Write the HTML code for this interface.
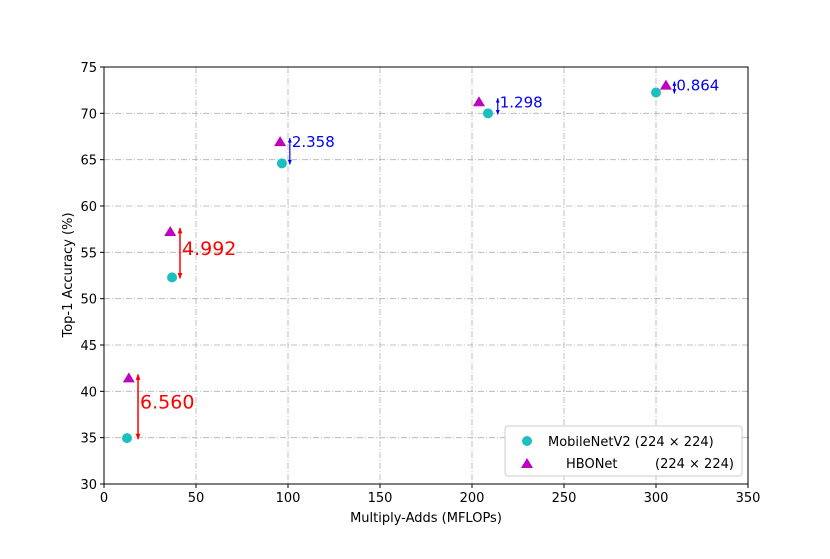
<!DOCTYPE html>
<html><head><meta charset="utf-8"><style>
body{margin:0;background:#fff}
svg{font-family:"DejaVu Sans","Liberation Sans",sans-serif}
</style></head><body>
<svg id="chart" width="830" height="554" viewBox="0 0 830 554">
<defs>
<marker id="arR" viewBox="0 0 10 10" refX="9" refY="5" markerWidth="4" markerHeight="4" orient="auto-start-reverse"><path d="M0,1L10,5L0,9z" fill="#ff0000"/></marker>
<marker id="arB" viewBox="0 0 10 10" refX="9" refY="5" markerWidth="4" markerHeight="4" orient="auto-start-reverse"><path d="M0,1L10,5L0,9z" fill="#0000ff"/></marker>
</defs>
<g id="grid"></g>
<g id="marks"></g>
<rect x="104" y="67" width="644" height="417" fill="none" stroke="#000" stroke-width="1"/>
<g id="ticks" font-size="13"></g>
<text x="426" y="522" text-anchor="middle" font-size="13">Multiply-Adds (MFLOPs)</text>
<text transform="translate(72,275) rotate(-90)" text-anchor="middle" font-size="13">Top-1 Accuracy (%)</text>
<g>
<rect x="505" y="426" width="237" height="50" rx="3" fill="#fff" stroke="#ccc"/>
<circle cx="527" cy="441" r="5" fill="#1bbfbf"/>
<text x="548" y="446" font-size="13">MobileNetV2 (224 × 224)</text>
<path d="M521,468L527,458L533,468z" fill="#bf00bf"/>
<text x="566" y="468" font-size="13">HBONet</text>
<text x="655" y="468" font-size="13">(224 × 224)</text>
</g>
</svg>
<script>
const xTicks=[0,50,100,150,200,250,300,350];
const yTicks=[30,35,40,45,50,55,60,65,70,75];
const mobX=[12.5,37,96.7,208.7,300];
const mobY=[34.95,52.3,64.6,70.0,72.25];
const hboX=[13.5,36,95.7,203.8,305.4];
const hboY=[41.5,57.3,67.0,71.3,73.1];
const diffs=["6.560","4.992","2.358","1.298","0.864"];
const arrowX=[18.5,41.3,101,214,310];
const X=v=>104+v*644/350, Y=v=>484-(v-30)*417/45;
const NS="http://www.w3.org/2000/svg";
function mk(t,a,p){const e=document.createElementNS(NS,t);for(const k in a)e.setAttribute(k,a[k]);p.appendChild(e);return e;}
const grid=document.getElementById('grid'),ticks=document.getElementById('ticks'),marks=document.getElementById('marks');
xTicks.forEach(v=>{
 const g=mk('line',{x1:X(v),x2:X(v),y1:67,y2:484,stroke:'#b0b0b0','stroke-dasharray':'6,2,1,2','stroke-width':0.8},grid);
 
 
 const t=mk('line',{x1:X(v),x2:X(v),y1:484,y2:488,stroke:'#000'},ticks);
 
 
 const l=mk('text',{x:X(v),y:502,'text-anchor':'middle'},ticks);l.textContent=v;
 
 
});
yTicks.forEach(v=>{
 const g=mk('line',{x1:104,x2:748,y1:Y(v),y2:Y(v),stroke:'#b0b0b0','stroke-dasharray':'6,2,1,2','stroke-width':0.8},grid);
 
 
 const t=mk('line',{x1:100,x2:104,y1:Y(v),y2:Y(v),stroke:'#000'},ticks);
 
 
 const l=mk('text',{x:97,y:Y(v)+5,'text-anchor':'end'},ticks);l.textContent=v;
 
 
});
mobX.forEach((x,i)=>{
 const red=i<2,col=red?'#ff0000':'#0000ff';
 const a=mk('line',{x1:X(arrowX[i]),x2:X(arrowX[i]),y1:Y(mobY[i])+1,y2:Y(hboY[i])-3,stroke:col,'stroke-width':red?1.5:1.2,'marker-start':red?'url(#arR)':'url(#arB)','marker-end':red?'url(#arR)':'url(#arB)'},marks);
 
 
 const fs=red?19:15;
 const ty=red?(Y(mobY[i])+Y(hboY[i]))/2+fs*0.35-6:Y(hboY[i])+fs*0.4;
 const t=mk('text',{x:X(arrowX[i])+2,y:ty,fill:col,'font-size':fs},marks);t.textContent=diffs[i];
 
 
 const c=mk('circle',{cx:X(x),cy:Y(mobY[i]),r:5,fill:'#1bbfbf'},marks);
 
 
 const hx=X(hboX[i]),hy=Y(hboY[i]);
 const p=mk('path',{d:`M${hx-6},${hy+5}L${hx},${hy-5}L${hx+6},${hy+5}z`,fill:'#bf00bf'},marks);
 
 
});
</script>
</body></html>
